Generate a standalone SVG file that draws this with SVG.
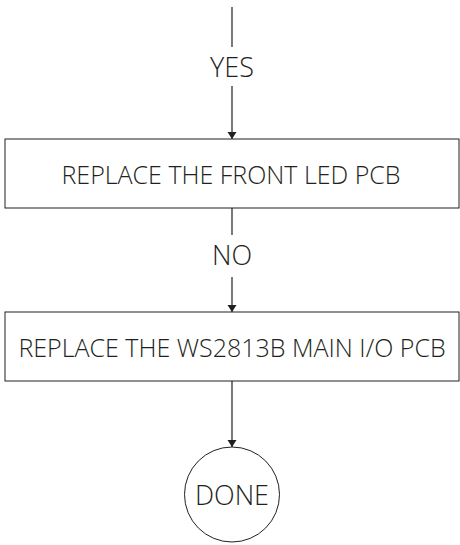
<svg xmlns="http://www.w3.org/2000/svg" width="460" height="545" viewBox="0 0 460 545">
<style>
.ln{stroke:#231f20;stroke-width:1.2;fill:none}
.bx{fill:#fff;stroke:#231f20;stroke-width:1}
.t{font-family:"Open Sans","Noto Sans",sans-serif;font-weight:300;fill:#231f20;text-anchor:middle}
</style>
<defs>
<marker id="ah" markerWidth="10" markerHeight="10" refX="7" refY="5" orient="auto" markerUnits="userSpaceOnUse">
<path d="M0,0.5 L7,5 L0,9.5 Z" fill="#231f20"/>
</marker>
</defs>
<rect width="460" height="545" fill="#fff"/>
<g id="connectors">
<line class="ln" x1="232" y1="7" x2="232" y2="47"/>
<line class="ln" x1="232" y1="86" x2="232" y2="139" marker-end="url(#ah)"/>
<line class="ln" x1="232" y1="208" x2="232" y2="235"/>
<line class="ln" x1="232" y1="277" x2="232" y2="312" marker-end="url(#ah)"/>
<line class="ln" x1="232" y1="381" x2="232" y2="447" marker-end="url(#ah)"/>
<text class="t" x="232" y="77" font-size="27">YES</text>
<text class="t" x="232" y="265" font-size="27">NO</text>
</g>
<g id="box1">
<rect class="bx" x="5" y="139" width="454" height="69"/>
<text class="t" x="231" y="184" font-size="25">REPLACE THE FRONT LED PCB</text>
</g>
<g id="box2">
<rect class="bx" x="5" y="312" width="454" height="69"/>
<text class="t" x="232" y="357" font-size="25">REPLACE THE WS2813B MAIN I/O PCB</text>
</g>
<g id="done">
<circle class="bx" cx="232" cy="494.5" r="47.5"/>
<text class="t" x="232" y="505" font-size="27">DONE</text>
</g>
</svg>
